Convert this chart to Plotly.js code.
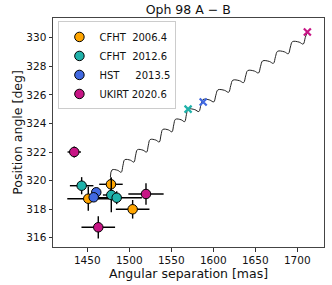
<!DOCTYPE html>
<html>
<head>
<meta charset="utf-8">
<script src="https://cdn.plot.ly/plotly-3.0.1.min.js"></script>
<style>html,body{margin:0;padding:0;background:#fff;}#chart{width:332px;height:285px;}</style>
</head>
<body>
<div id="chart"></div>
<script>
// Observations: separation [mas], position angle [deg], errors
const cfht2006Sep = [1451.2, 1478.2, 1504.0];
const cfht2006PA  = [318.73, 319.74, 317.99];
const cfht2006SepErr = [25, 14, 20];
const cfht2006PAErr  = [0.85, 0.5, 0.65];

const cfht2012Sep = [1443.3, 1478.6, 1485.0];
const cfht2012PA  = [319.64, 318.99, 318.80];
const cfht2012SepErr = [14, 10, 30];
const cfht2012PAErr  = [0.6, 1.2, 0.45];

const hstSep = [1460.7, 1457.6];
const hstPA  = [319.18, 318.83];
const hstSepErr = [3, 3];
const hstPAErr  = [0.2, 0.2];

const ukirtSep = [1434.5, 1519.9, 1463.1];
const ukirtPA  = [322.00, 319.06, 316.73];
const ukirtSepErr = [8, 21, 20];
const ukirtPAErr  = [0.38, 0.75, 0.78];

// Background-star track
const trackSep = [1477.5,1479.5,1486.3,1490.4,1492.5,1494.6,1501.4,1505.5,1507.6,1509.7,1516.5,1520.6,1522.7,1524.8,1531.6,1535.7,1537.8,1539.9,1546.7,1550.8,1552.9,1555.0,1561.8,1565.9,1568.0,1570.0,1578.0,1582.8,1585.3,1587.75,1595.75,1600.55,1603.05,1605.5,1613.5,1618.3,1620.8,1623.25,1631.25,1636.05,1638.55,1641.0,1649.0,1653.8,1656.3,1658.75,1666.75,1671.55,1674.05,1676.5,1684.5,1689.3,1691.8,1694.25,1702.25,1707.05,1709.55,1712.0];
const trackPA  = [320.25,320.75,320.715,320.58,321.07,321.46,321.425,321.29,321.78,322.16,322.125,321.99,322.48,322.87,322.835,322.70,323.19,323.58,323.545,323.41,323.90,324.29,324.255,324.12,324.61,325.00,324.965,324.83,325.30,325.675,325.64,325.505,325.975,326.35,326.315,326.18,326.65,327.025,326.99,326.855,327.325,327.7,327.665,327.53,328.0,328.375,328.34,328.205,328.675,329.05,329.015,328.88,329.35,329.725,329.69,329.555,330.025,330.4];

// Predicted background positions at epochs
const predSep = [1570.0, 1588.0, 1712.0];
const predPA  = [325.0, 325.5, 330.4];

const labels = ['CFHT\u00A0\u00A02006.4', 'CFHT\u00A0\u00A02012.6', 'HST\u00A0\u00A0\u00A0\u00A0\u00A02013.5', 'UKIRT\u00A02020.6'];
const colors = ['#FFA500', '#20B2AA', '#4169E1', '#C71585'];

function obs(x, y, ex, ey, i) {
  return {
    x: x, y: y, type: 'scatter', mode: 'markers', name: labels[i],
    marker: {color: colors[i], size: 9.5, line: {color: '#000', width: 1}},
    error_x: {type: 'data', array: ex, visible: true, color: '#000', thickness: 1.4, width: 0},
    error_y: {type: 'data', array: ey, visible: true, color: '#000', thickness: 1.4, width: 0},
    cliponaxis: false
  };
}

const data = [
  {x: trackSep, y: trackPA, type: 'scatter', mode: 'lines', showlegend: false,
   line: {color: '#222', width: 1, shape: 'spline', smoothing: 1}},
  obs(cfht2006Sep, cfht2006PA, cfht2006SepErr, cfht2006PAErr, 0),
  obs(cfht2012Sep, cfht2012PA, cfht2012SepErr, cfht2012PAErr, 1),
  obs(hstSep, hstPA, hstSepErr, hstPAErr, 2),
  obs(ukirtSep, ukirtPA, ukirtSepErr, ukirtPAErr, 3),
  {x: predSep, y: predPA, type: 'scatter', mode: 'markers', showlegend: false,
   marker: {symbol: 'x-thin', size: 7, color: [colors[1], colors[2], colors[3]],
            line: {width: 2.2, color: [colors[1], colors[2], colors[3]]}}}
];

const font = {family: 'DejaVu Sans, sans-serif', color: '#111'};
const layout = {
  width: 332, height: 285,
  margin: {l: 53, r: 8, t: 18, b: 38},
  paper_bgcolor: '#fff', plot_bgcolor: '#fff',
  font: Object.assign({size: 10.5}, font),
  title: {text: 'Oph 98 A \u2212 B', font: Object.assign({size: 12.5}, font),
          x: 0.567, xanchor: 'center', y: 0.965, yanchor: 'middle'},
  xaxis: {
    range: [1409.2, 1731.8], dtick: 50, tick0: 1450,
    ticks: 'outside', ticklen: 3.5, tickwidth: 1, tickcolor: '#333',
    showline: true, mirror: true, linecolor: '#444', linewidth: 1,
    showgrid: false, zeroline: false,
    tickfont: Object.assign({size: 10.5}, font),
    title: {text: 'Angular separation [mas]', font: Object.assign({size: 12.5}, font), standoff: 1}
  },
  yaxis: {
    range: [315.35, 331.38], dtick: 2, tick0: 316,
    ticks: 'outside', ticklen: 3.5, tickwidth: 1, tickcolor: '#333',
    showline: true, mirror: true, linecolor: '#444', linewidth: 1,
    showgrid: false, zeroline: false,
    tickfont: Object.assign({size: 10.5}, font),
    title: {text: 'Position angle [deg]', font: Object.assign({size: 12.5}, font), standoff: 0}
  },
  legend: {
    x: 0.02, y: 0.985, xanchor: 'left', yanchor: 'top',
    bgcolor: 'rgba(255,255,255,0.8)', bordercolor: '#ccc', borderwidth: 1,
    font: Object.assign({size: 10}, font),
    itemwidth: 30, tracegroupgap: 0
  },
  showlegend: true
};

Plotly.newPlot('chart', data, layout, {displayModeBar: false, staticPlot: true});
</script>
</body>
</html>
